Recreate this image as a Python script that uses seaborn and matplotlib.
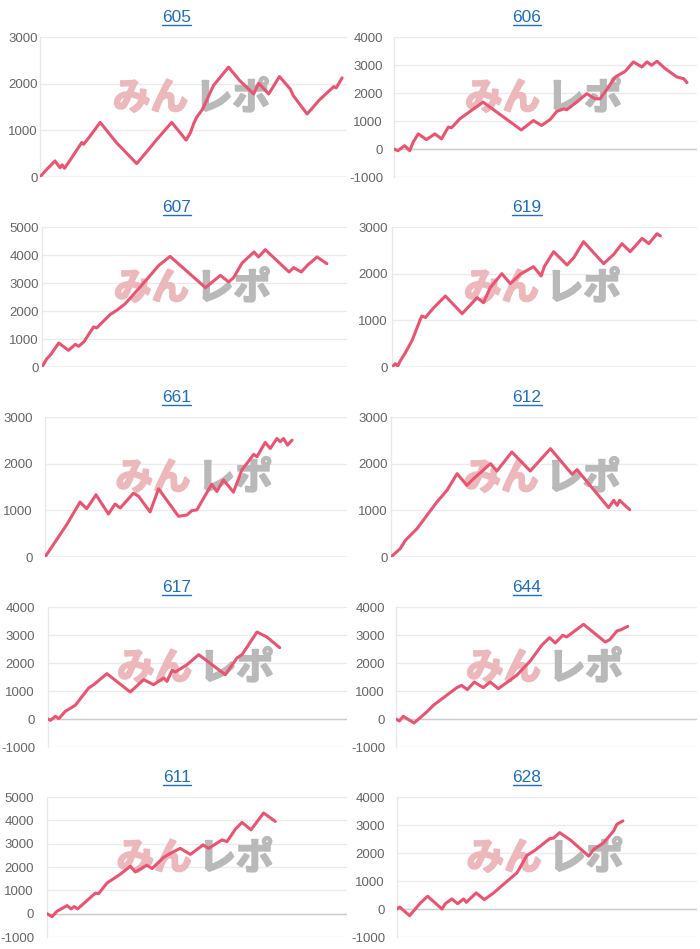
import matplotlib
matplotlib.use('Agg')
import matplotlib.pyplot as plt
import matplotlib.patheffects as pe
from matplotlib.lines import Line2D
import seaborn as sns

# machine numbers (panel titles), left column first then right, row by row
names = ['605', '606', '607', '619', '661', '612', '617', '644', '611', '628']

# x is position along the day (0-100), y is the running difference
x_605 = [0, 2, 4.9, 6.5, 7.2, 8, 10, 13.6, 14.2, 16, 19.6, 25, 31.5, 35, 38, 42.9, 47.6, 49, 50, 51, 53,
         56.5, 61.4, 65, 69.6, 71.2, 74.5, 78, 81.5, 82.5, 87, 91, 95.7, 96.5, 98.4]
y_605 = [0, 150, 344, 200, 260, 187, 380, 740, 700, 850, 1170, 730, 287, 560, 800, 1170, 790, 950, 1134, 1277, 1457,
         1960, 2354, 2070, 1780, 2010, 1780, 2153, 1887, 1744, 1350, 1650, 1938, 1910, 2124]

x_606 = [0, 1.3, 3.5, 5.2, 6.3, 8, 10.7, 13.5, 15.7, 17.9, 19, 21.7, 29.4, 42, 46, 48.7, 51.5, 53.7, 56, 57,
         60.3, 63.6, 66.4, 68, 70.8, 73, 76.3, 79, 81.8, 83.5, 85, 86.8, 89.5, 93.4, 95.6, 96.7]
y_606 = [0, -60, 120, -60, 240, 540, 335, 540, 360, 780, 760, 1077, 1675, 680, 1017, 840, 1050, 1340, 1435, 1400,
         1675, 1975, 1795, 1790, 2213, 2570, 2775, 3110, 2930, 3110, 2990, 3134, 2870, 2570, 2510, 2370]

x_607 = [0, 1.6, 2.7, 5.5, 8.7, 10.9, 12, 13.7, 16.9, 18, 20.2, 22.4, 24.5, 27.3, 32.2, 38.3, 42, 53.6, 58.5,
         61.2, 62.8, 65.6, 69.5, 71, 73.2, 81, 82.5, 85, 87, 90.2, 93.4]
y_607 = [0, 300, 420, 857, 595, 810, 740, 893, 1430, 1400, 1643, 1880, 2024, 2262, 2857, 3630, 3950, 2833, 3274,
         3036, 3190, 3714, 4107, 3930, 4190, 3393, 3550, 3393, 3630, 3930, 3690]

x_619 = [0, 1.1, 1.9, 2.7, 4.4, 6.6, 9.3, 9.8, 11, 12, 13.7, 17.5, 23, 27.9, 30, 32.2, 36, 38.8, 42, 46.4,
         48.9, 50, 53, 57.4, 59.6, 62.8, 69.4, 72.7, 75.4, 78.1, 82, 84.2, 86.9, 88]
y_619 = [0, 70, 20, 130, 307, 571, 1021, 1093, 1060, 1143, 1271, 1521, 1143, 1486, 1379, 1700, 2000, 1786, 1986, 2150,
         1950, 2160, 2471, 2186, 2343, 2686, 2214, 2414, 2643, 2471, 2757, 2643, 2857, 2807]

x_661 = [0, 1.7, 7.2, 11.6, 13.8, 16.9, 21, 23.2, 24.9, 29.3, 31, 34.8, 37.6, 44.2, 45.9, 47, 48.6, 50.3,
         55.2, 56.9, 59.1, 62.4, 65.2, 69.1, 70.2, 72.9, 74.6, 76.8, 77.9, 79, 80.3, 81.8]
y_661 = [0, 163, 695, 1177, 1035, 1333, 922, 1135, 1050, 1369, 1300, 965, 1461, 872, 890, 900, 993, 1010,
         1560, 1404, 1652, 1390, 1865, 2199, 2150, 2454, 2326, 2539, 2470, 2539, 2397, 2503]

x_612 = [0, 3, 4.7, 8.5, 15, 18.3, 21.6, 24.8, 27, 32.5, 34.6, 39.5, 45.5, 52.1, 59.2, 60.8, 71.1, 72.8, 73.9,
         74.7, 78]
y_612 = [0, 179, 357, 607, 1179, 1429, 1786, 1536, 1679, 2000, 1843, 2250, 1843, 2321, 1771, 1871, 1057, 1214, 1107,
         1214, 1014]

x_617 = [0, 0.8, 2.5, 3.6, 5.8, 9.1, 13.6, 15.3, 19.7, 27.5, 32, 35.3, 38.7, 39.8, 41.5, 42.6, 46.5, 50.4, 59.3,
         63.2, 64.9, 69.9, 73.2, 77.5]
y_617 = [0, -48, 95, 12, 274, 488, 1107, 1226, 1619, 964, 1405, 1226, 1464, 1345, 1738, 1680, 1940, 2298, 1583,
         2179, 2300, 3107, 2929, 2548]

x_644 = [0, 1.1, 2.4, 6, 10.2, 12.4, 20.2, 21.8, 23.7, 26, 29, 31.3, 34, 40.1, 44.6, 48.4, 51, 52.9, 55.4, 56.7,
         62.3, 69.5, 71, 73.4, 74.8, 77]
y_644 = [0, -71, 95, -143, 250, 488, 1119, 1202, 1048, 1321, 1119, 1321, 1083, 1560, 2071, 2631, 2905, 2714, 2988, 2930,
         3381, 2750, 2833, 3143, 3190, 3310]

x_611 = [0, 1.7, 3.3, 6.7, 8, 9.1, 10.2, 16.1, 17.2, 20, 24.4, 27.8, 29.4, 33.3, 35, 38.9, 41.1, 44.4, 47.8, 52,
         53.9, 58.3, 60, 62.8, 65, 68, 72.2, 76.1]
y_611 = [0, -130, 101, 346, 202, 303, 202, 880, 860, 1313, 1688, 2035, 1789, 2078, 1934, 2410, 2583, 2799, 2540, 2944,
         2799, 3160, 3088, 3622, 3911, 3593, 4315, 3954]

x_628 = [0, 0.9, 4.2, 7.8, 10.2, 15, 16.1, 18.3, 20.2, 22.2, 23.1, 26.4, 29.1, 32.2, 36.7, 40, 43.3, 46.1, 50.9,
         52.2, 54.2, 57.8, 63.9, 65.6, 68.9, 72.2, 73.3, 75.3]
y_628 = [0, 72, -239, 215, 455, 0, 191, 359, 191, 359, 239, 574, 335, 574, 993, 1292, 1914, 2105, 2512,
         2530, 2727, 2464, 1890, 2129, 2368, 2787, 3026, 3146]

series = [(x_605, y_605), (x_606, y_606), (x_607, y_607), (x_619, y_619), (x_661, y_661),
          (x_612, y_612), (x_617, y_617), (x_644, y_644), (x_611, y_611), (x_628, y_628)]

# y axis range of each panel
y_min = [0, -1000, 0, 0, 0, 0, -1000, -1000, -1000, -1000]
y_max = [3000, 4000, 5000, 3000, 3000, 3000, 4000, 4000, 5000, 4000]

# layout in pixels
W, H = 700, 949
ax_left = [40, 394, 42, 392, 45, 391, 48, 396, 47, 397]
tick_pad = [2, 11, 3, 4, 12, 3, 13, 11, 13, 12]

LINE = '#ea5470'
TITLE = '#1f6fc0'
WM_PINK = '#ecb8bc'
WM_GREY = '#b9b9b9'

sns.set_style('white')
plt.rcParams['font.family'] = ['Liberation Sans', 'Noto Sans CJK JP', 'DejaVu Sans']
plt.rcParams['axes.unicode_minus'] = False

fig = plt.figure(figsize=(W / 100, H / 100), dpi=100)
fig.patch.set_facecolor('white')


def px_rect(l, t, r, b):
    return [l / W, 1 - b / H, (r - l) / W, (b - t) / H]


titles = []
for i, name in enumerate(names):
    row, col = i // 2, i % 2
    top = 37 + 190 * row
    ax = fig.add_axes(px_rect(ax_left[i], top, 347 + 350 * col, top + 140))
    xs, ys = series[i]
    sns.lineplot(x=xs, y=ys, ax=ax, color=LINE, linewidth=2.2, zorder=4)

    ax.set_xlim(0, 100)
    ax.set_ylim(y_min[i], y_max[i])
    ax.set_yticks(range(y_min[i], y_max[i] + 1, 1000))
    ax.set_xticks([])
    ax.set_xlabel('')
    ax.set_ylabel('')
    ax.set_axisbelow(True)
    ax.grid(axis='y', color='#ebebeb', linewidth=1)
    ax.axhline(0, color='#cccccc', linewidth=1, zorder=2)
    for s in ['top', 'right', 'bottom']:
        ax.spines[s].set_visible(False)
    ax.spines['left'].set_color('#e8e8e8')
    ax.spines['left'].set_linewidth(1)
    ax.tick_params(axis='y', length=0, pad=tick_pad[i] / 1.39, labelsize=9.5, labelcolor='#666666')

    # watermark logo, thickened a little with a stroke of the same colour
    ax.text(0.482, 0.565, 'みん', transform=ax.transAxes, ha='right', va='center',
            fontsize=27, fontweight='bold', color=WM_PINK,
            family=['Noto Sans CJK JP', 'DejaVu Sans'], zorder=1,
            path_effects=[pe.withStroke(linewidth=1.5, foreground=WM_PINK)])
    ax.text(0.505, 0.565, 'レポ', transform=ax.transAxes, ha='left', va='center',
            fontsize=27, fontweight='bold', color=WM_GREY,
            family=['Noto Sans CJK JP', 'DejaVu Sans'], zorder=1,
            path_effects=[pe.withStroke(linewidth=1.5, foreground=WM_GREY)])

    t = fig.text((177 + 350 * col) / W, 1 - (22.5 + 190 * row) / H, name, ha='center', va='baseline',
                 fontsize=12.5, color=TITLE)
    titles.append((t, row))

# underline the titles like links
fig.canvas.draw()
renderer = fig.canvas.get_renderer()
for t, row in titles:
    bb = t.get_window_extent(renderer)
    yy = 1 - (25 + 190 * row) / H
    fig.add_artist(Line2D([bb.x0 / W, bb.x1 / W], [yy, yy], transform=fig.transFigure,
                          color=TITLE, linewidth=1))

fig.savefig('out.png', dpi=100)
